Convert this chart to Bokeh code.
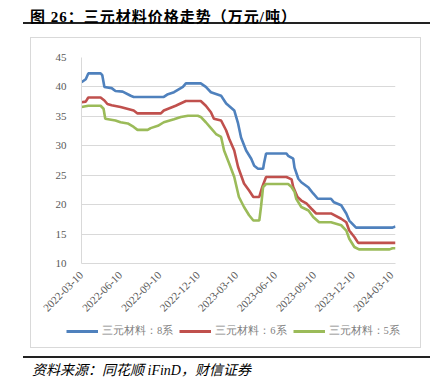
import pandas as pd
from bokeh.plotting import figure
from bokeh.models import (FixedTicker, DatetimeTickFormatter, Legend, LegendItem,
                          Div, Range1d, InlineStyleSheet)
from bokeh.layouts import column
from bokeh.embed import file_html
from bokeh.resources import INLINE

title_text = "图 26：三元材料价格走势（万元/吨）"
source_text = "资料来源：同花顺 iFinD，财信证券"
series_names = ["三元材料：8系", "三元材料：6系", "三元材料：5系"]
tick_labels = ["2022-03-10", "2022-06-10", "2022-09-10", "2022-12-10", "2023-03-10",
               "2023-06-10", "2023-09-10", "2023-12-10", "2024-03-10"]
y_ticks = [10, 15, 20, 25, 30, 35, 40, 45]

ncm8_dates = ["2022-03-10", "2022-03-20", "2022-03-26", "2022-04-24", "2022-04-28", "2022-05-03",
              "2022-05-20", "2022-05-29", "2022-06-15", "2022-07-04", "2022-07-11", "2022-09-20",
              "2022-09-28", "2022-10-14", "2022-11-04", "2022-11-11", "2022-12-16", "2022-12-28",
              "2023-01-09", "2023-02-02", "2023-02-14", "2023-03-05", "2023-03-14", "2023-03-21",
              "2023-04-02", "2023-04-14", "2023-04-21", "2023-04-30", "2023-05-12", "2023-05-14",
              "2023-05-19", "2023-07-06", "2023-07-10", "2023-07-22", "2023-07-25", "2023-08-03",
              "2023-08-10", "2023-08-27", "2023-09-07", "2023-09-18", "2023-10-19", "2023-10-26",
              "2023-11-12", "2023-11-24", "2023-12-01", "2023-12-17", "2024-03-12", "2024-03-19"]
ncm8_values = [40.8, 41.3, 42.3, 42.3, 42.0, 40.0,
               39.8, 39.3, 39.2, 38.5, 38.3, 38.3,
               38.7, 39.1, 40.0, 40.6, 40.6, 40.0,
               39.1, 38.5, 37.2, 36.0, 33.8, 31.4,
               29.2, 27.8, 26.6, 26.1, 26.1, 27.0,
               28.7, 28.7, 28.3, 27.8, 26.3, 24.4,
               23.8, 22.9, 21.9, 21.0, 21.0, 20.4,
               19.9, 18.5, 17.3, 16.1, 16.1, 16.3]

ncm6_dates = ["2022-03-10", "2022-03-20", "2022-03-26", "2022-04-24", "2022-05-03", "2022-05-10",
              "2022-05-20", "2022-06-10", "2022-07-11", "2022-07-20", "2022-09-13", "2022-09-20",
              "2022-10-18", "2022-11-11", "2022-12-16", "2022-12-28", "2023-01-09", "2023-01-16",
              "2023-02-02", "2023-02-14", "2023-02-21", "2023-03-05", "2023-03-14", "2023-03-28",
              "2023-04-09", "2023-04-19", "2023-05-03", "2023-05-10", "2023-05-19", "2023-07-06",
              "2023-07-18", "2023-07-22", "2023-08-01", "2023-08-10", "2023-08-22", "2023-09-03",
              "2023-09-14", "2023-10-19", "2023-11-12", "2023-11-24", "2023-12-01", "2023-12-13",
              "2023-12-22", "2024-03-19"]
ncm6_values = [37.4, 37.5, 38.2, 38.2, 37.7, 37.1,
               36.9, 36.6, 36.0, 35.5, 35.5, 36.0,
               36.8, 37.6, 37.6, 36.8, 35.7, 34.6,
               34.3, 32.6, 31.2, 29.2, 26.4, 23.6,
               22.4, 21.3, 21.3, 23.0, 24.7, 24.7,
               24.3, 23.0, 21.3, 20.7, 20.2, 19.3,
               18.5, 18.5, 17.6, 17.0, 15.6, 14.5,
               13.5, 13.5]

ncm5_dates = ["2022-03-10", "2022-03-26", "2022-04-24", "2022-05-01", "2022-05-05", "2022-05-29",
              "2022-06-10", "2022-06-27", "2022-07-11", "2022-07-20", "2022-08-13", "2022-08-20",
              "2022-09-06", "2022-09-20", "2022-10-14", "2022-10-30", "2022-11-16", "2022-12-09",
              "2022-12-16", "2022-12-28", "2023-01-09", "2023-01-21", "2023-02-02", "2023-02-09",
              "2023-02-21", "2023-03-05", "2023-03-16", "2023-03-28", "2023-04-09", "2023-04-19",
              "2023-05-03", "2023-05-07", "2023-05-12", "2023-05-19", "2023-07-10", "2023-07-18",
              "2023-07-25", "2023-07-29", "2023-08-10", "2023-08-27", "2023-09-07", "2023-09-21",
              "2023-10-19", "2023-11-12", "2023-11-24", "2023-12-01", "2023-12-13", "2023-12-24",
              "2024-03-05", "2024-03-12", "2024-03-19"]
ncm5_values = [36.6, 36.8, 36.8, 36.3, 34.6, 34.3,
               34.0, 33.8, 33.2, 32.7, 32.7, 33.0,
               33.4, 34.0, 34.5, 34.9, 35.1, 35.1,
               34.9, 34.0, 33.0, 32.0, 31.5, 29.2,
               27.0, 24.7, 21.3, 19.6, 18.2, 17.3,
               17.3, 19.6, 23.0, 23.5, 23.5, 23.0,
               22.2, 21.0, 19.6, 19.0, 17.9, 17.0,
               17.0, 16.5, 15.6, 14.2, 12.8, 12.4,
               12.4, 12.6, 12.6]

colors = ["#4F81BD", "#C0504D", "#9BBB59"]
serif = "Liberation Serif"
gray_text = "#595959"
legend_text = "#7F7F7F"
grid_gray = "#D9D9D9"
series = [(ncm8_dates, ncm8_values), (ncm6_dates, ncm6_values), (ncm5_dates, ncm5_values)]

# ---- main chart ----
p = figure(width=389, height=280, x_axis_type="datetime", output_backend="svg",
           toolbar_location=None,
           x_range=Range1d(pd.Timestamp("2022-03-10"), pd.Timestamp("2024-03-19")),
           y_range=Range1d(10, 45),
           min_border_left=50, min_border_right=25, min_border_top=19, min_border_bottom=55)
p.outline_line_color = None
p.background_fill_color = "white"
p.border_fill_color = "white"

for (d, v), c in zip(series, colors):
    p.line(pd.to_datetime(d), v, line_color=c, line_width=2.6)

p.xgrid.grid_line_color = None
p.ygrid.grid_line_color = grid_gray
p.ygrid.grid_line_width = 1

p.yaxis.ticker = FixedTicker(ticks=y_ticks)
p.xaxis.ticker = FixedTicker(ticks=[pd.Timestamp(t).timestamp() * 1000 for t in tick_labels])
fmt = "%Y-%m-%d"
p.xaxis.formatter = DatetimeTickFormatter(microseconds=fmt, milliseconds=fmt, seconds=fmt,
                                          minsec=fmt, minutes=fmt, hourmin=fmt, hours=fmt,
                                          days=fmt, months=fmt, years=fmt)
p.xaxis.major_label_orientation = 0.785398
for ax in [p.xaxis[0], p.yaxis[0]]:
    ax.axis_line_color = grid_gray
    ax.axis_line_width = 1
    ax.major_tick_line_color = None
    ax.minor_tick_line_color = None
    ax.major_label_text_font = serif
    ax.major_label_text_font_size = "11px"
    ax.major_label_text_color = gray_text
p.yaxis.major_label_standoff = 9
p.xaxis.major_label_standoff = 4

# ---- legend strip (inside the same bordered chart box) ----
# its ranges keep the key lines out of view; only the legend keys show
lg = figure(width=389, height=29, output_backend="svg", toolbar_location=None,
            x_axis_location=None, y_axis_location=None,
            x_range=Range1d(0, 1), y_range=Range1d(0, 1),
            min_border_left=0, min_border_right=0, min_border_top=0, min_border_bottom=0)
lg.grid.visible = False
lg.outline_line_color = None
lg.background_fill_color = "white"
lg.border_fill_color = "white"
key_renderers = [lg.line(list(range(len(v))), v, line_color=c, line_width=2.8)
                 for (d, v), c in zip(series, colors)]
legend = Legend(items=[LegendItem(label=n, renderers=[r]) for n, r in zip(series_names, key_renderers)],
                location=(35, 9), orientation="horizontal",
                padding=0, margin=0, spacing=6, glyph_width=32, glyph_height=14,
                label_height=14, label_standoff=4,
                label_text_font=serif, label_text_font_size="10.5px",
                label_text_color=legend_text, border_line_color=None,
                background_fill_alpha=0)
lg.add_layout(legend, "center")

for fig in (p, lg):
    if "frame_align" in fig.properties():
        fig.frame_align = False

chart_box = column(p, lg, spacing=0, margin=(0, 0, 0, 30),
                   stylesheets=[InlineStyleSheet(css=":host { border: 1px solid #D9D9D9; }")])

title_div = Div(
    text=('<div style="width:407px;">'
          '<div style="padding:8px 0 0 7px;height:18px;white-space:nowrap;'
          'font-family:\'Liberation Serif\',\'Noto Sans CJK SC\';font-weight:bold;'
          'font-size:15px;line-height:18px;letter-spacing:1px;color:#000;">'
          + title_text + '</div>'
          '<div style="margin-top:4px;width:407px;height:1.5px;background:#222;"></div>'
          '</div>'),
    width=407, height=37, margin=(0, 0, 0, 23))

source_div = Div(
    text=('<div style="width:407px;">'
          '<div style="margin-top:8px;width:407px;height:1.5px;background:#222;"></div>'
          '<div style="margin-top:5px;padding-left:9px;white-space:nowrap;'
          'font-family:\'Liberation Serif\',\'Noto Sans CJK SC\';font-style:italic;'
          'font-size:14px;line-height:16px;color:#000;">'
          + source_text + '</div></div>'),
    width=407, height=40, margin=(0, 0, 0, 23))

layout = column(title_div, chart_box, source_div, spacing=0)

open("out.html", "w").write(file_html(layout, INLINE))
